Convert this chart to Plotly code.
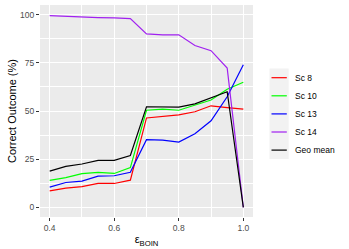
import plotly.graph_objects as go

eps = [0.4, 0.45, 0.5, 0.55, 0.6, 0.65, 0.7, 0.75, 0.8, 0.85, 0.9, 0.95, 1.0]
sc8 = [8.6, 10.0, 10.8, 12.4, 12.4, 14.1, 46.4, 47.1, 48.0, 49.6, 52.7, 51.8, 51.0]
sc10 = [14.0, 15.4, 17.5, 18.2, 17.6, 20.6, 50.4, 51.0, 50.4, 53.2, 55.7, 61.3, 64.9]
sc13 = [10.5, 12.9, 13.6, 16.2, 16.4, 18.2, 35.1, 34.9, 33.9, 38.2, 44.9, 57.4, 74.0]
sc14 = [99.5, 99.1, 98.8, 98.5, 98.3, 97.9, 90.0, 89.5, 89.5, 84.0, 81.3, 72.3, 0.0]
geo = [18.8, 21.3, 22.5, 24.4, 24.4, 26.9, 52.2, 52.2, 52.0, 53.7, 56.9, 60.0, 0.0]

series = [("Sc 8", sc8, "#FF0000"), ("Sc 10", sc10, "#00FF00"),
          ("Sc 13", sc13, "#0000FF"), ("Sc 14", sc14, "#A020F0"),
          ("Geo mean", geo, "#000000")]

fig = go.Figure()
for name, vals, col in series:
    fig.add_trace(go.Scatter(x=eps, y=vals, mode="lines", name=name,
                             line=dict(color=col, width=1.2)))

L, R, T, B = 40, 96, 5, 32
pw, ph = 349 - L - R, 249 - T - B

def px(x):
    return (x - L) / pw

def py(y):
    return (249 - B - y) / ph

# legend key background
fig.add_shape(type="rect", xref="paper", yref="paper",
              x0=px(269.5), x1=px(288.7), y0=py(159), y1=py(68.5),
              fillcolor="#F2F2F2", line=dict(width=0), layer="below")

# manual legend (ggplot style)
for i, (name, vals, col) in enumerate(series):
    yy = 77.7 + i * 18.1
    fig.add_shape(type="line", xref="paper", yref="paper",
                  x0=px(271.5), x1=px(286.8), y0=py(yy), y1=py(yy),
                  line=dict(color=col, width=1.2))
    fig.add_annotation(xref="paper", yref="paper", x=px(293), y=py(yy),
                       xanchor="left", yanchor="middle", text=name,
                       showarrow=False, font=dict(size=8.5, color="black"))

fig.update_layout(
    width=349, height=249,
    margin=dict(l=L, r=R, t=T, b=B),
    paper_bgcolor="white", plot_bgcolor="#EBEBEB",
    font=dict(family="Liberation Sans, Arial, sans-serif", color="black"),
    showlegend=False,
    xaxis=dict(range=[0.37, 1.03], tickvals=[0.4, 0.6, 0.8, 1.0],
               ticktext=["0.4", "0.6", "0.8", "1.0"],
               showgrid=True, gridcolor="white", gridwidth=1.1,
               zeroline=False, ticks="outside", ticklen=3, tickcolor="#333333",
               tickfont=dict(size=8.5, color="#4D4D4D"),
               minor=dict(tickvals=[0.5, 0.7, 0.9], showgrid=True,
                          gridcolor="white", gridwidth=0.5, ticks=""),
               title=dict(text="ε<sub>BOIN</sub>", font=dict(size=11), standoff=3)),
    yaxis=dict(range=[-5, 105], tickvals=[0, 25, 50, 75, 100],
               showgrid=True, gridcolor="white", gridwidth=1.1,
               zeroline=False, ticks="outside", ticklen=3, tickcolor="#333333",
               tickfont=dict(size=8.5, color="#4D4D4D"),
               minor=dict(tickvals=[12.5, 37.5, 62.5, 87.5], showgrid=True,
                          gridcolor="white", gridwidth=0.5, ticks=""),
               title=dict(text="Correct Outcome (%)", font=dict(size=11), standoff=1)),
)

fig.write_html("out.html", post_script="document.body.style.margin='0';",
               config={"displayModeBar": False})
